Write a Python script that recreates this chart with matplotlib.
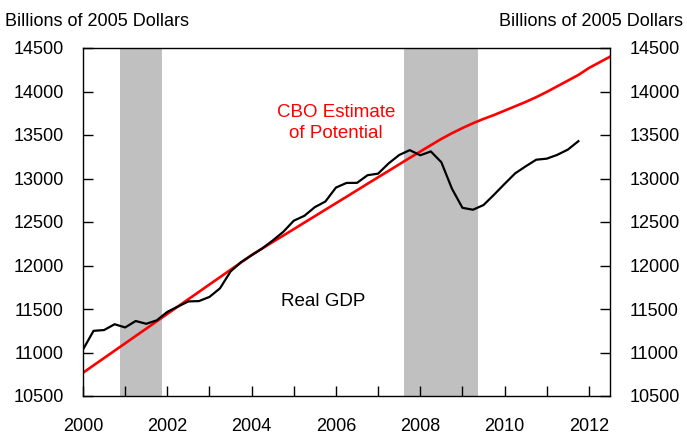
import numpy as np
import matplotlib
matplotlib.use("Agg")
import matplotlib.pyplot as plt

plt.rcParams['font.family'] = ['Liberation Sans', 'DejaVu Sans']

# quarterly data, 2000Q1 onward (billions of 2005 dollars)
real_gdp = [
    11034, 11249, 11258, 11325,
    11288, 11362, 11330, 11370,
    11467, 11528, 11587, 11591,
    11639, 11738, 11931, 12039,
    12118, 12196, 12287, 12387,
    12515, 12571, 12671, 12736,
    12896, 12949, 12950, 13038,
    13056, 13174, 13270, 13326,
    13267, 13311, 13187, 12884,
    12663, 12641, 12695, 12814,
    12938, 13059, 13140, 13216,
    13228, 13272, 13332, 13429,
]
potential = [
    10767, 10852, 10936, 11021,
    11105, 11190, 11274, 11359,
    11444, 11528, 11613, 11697,
    11782, 11866, 11951, 12035,
    12120, 12195, 12270, 12344,
    12418, 12493, 12567, 12642,
    12716, 12790, 12865, 12940,
    13014, 13088, 13163, 13237,
    13310, 13383, 13455, 13520,
    13580, 13635, 13685, 13730,
    13780, 13830, 13880, 13935,
    13995, 14060, 14125, 14190,
    14270, 14335, 14400,
]
recessions = [(2000.875, 2001.875), (2007.625, 2009.375)]
year_ticks = list(range(2000, 2013))
year_labels = ['2000', '', '2002', '', '2004', '', '2006', '', '2008', '', '2010', '', '2012']
y_ticks = [10500, 11000, 11500, 12000, 12500, 13000, 13500, 14000, 14500]

gdp_x = 2000 + np.arange(len(real_gdp)) / 4
pot_x = 2000 + np.arange(len(potential)) / 4

fig = plt.figure(figsize=(6.87, 4.34), dpi=100)
ax = fig.add_axes([83 / 687, 38 / 434, 527 / 687, 348 / 434])

for start, end in recessions:
    ax.axvspan(start, end, color='#c0c0c0', lw=0, zorder=0)

ax.plot(pot_x, potential, color='#ff0000', lw=1.9, zorder=2)
ax.plot(gdp_x, real_gdp, color='black', lw=1.6, zorder=3)

ax.set_xlim(2000, 2012.5)
ax.set_ylim(10500, 14500)
ax.set_xticks(year_ticks)
ax.set_xticklabels(year_labels)
ax.set_yticks(y_ticks)
ax.tick_params(axis='x', direction='in', length=7, width=1, pad=16, labelsize=13)
ax.tick_params(axis='y', direction='in', length=7, width=1, pad=14, labelsize=13,
               left=True, right=True, labelleft=True, labelright=True)
for s in ax.spines.values():
    s.set_linewidth(1)
    s.set_color('black')

ax.text(2006.0, 13640, 'CBO Estimate\nof Potential', color='#ff0000', fontsize=13.5,
        ha='center', va='center', linespacing=1.3)
ax.text(2005.7, 11590, 'Real GDP', color='black', fontsize=13.5, ha='center', va='center')

fig.text(5 / 687, 1 - 21 / 434, 'Billions of 2005 Dollars', fontsize=13, ha='left', va='center')
fig.text(683 / 687, 1 - 21 / 434, 'Billions of 2005 Dollars', fontsize=13, ha='right', va='center')

fig.savefig('out.png', dpi=100)
